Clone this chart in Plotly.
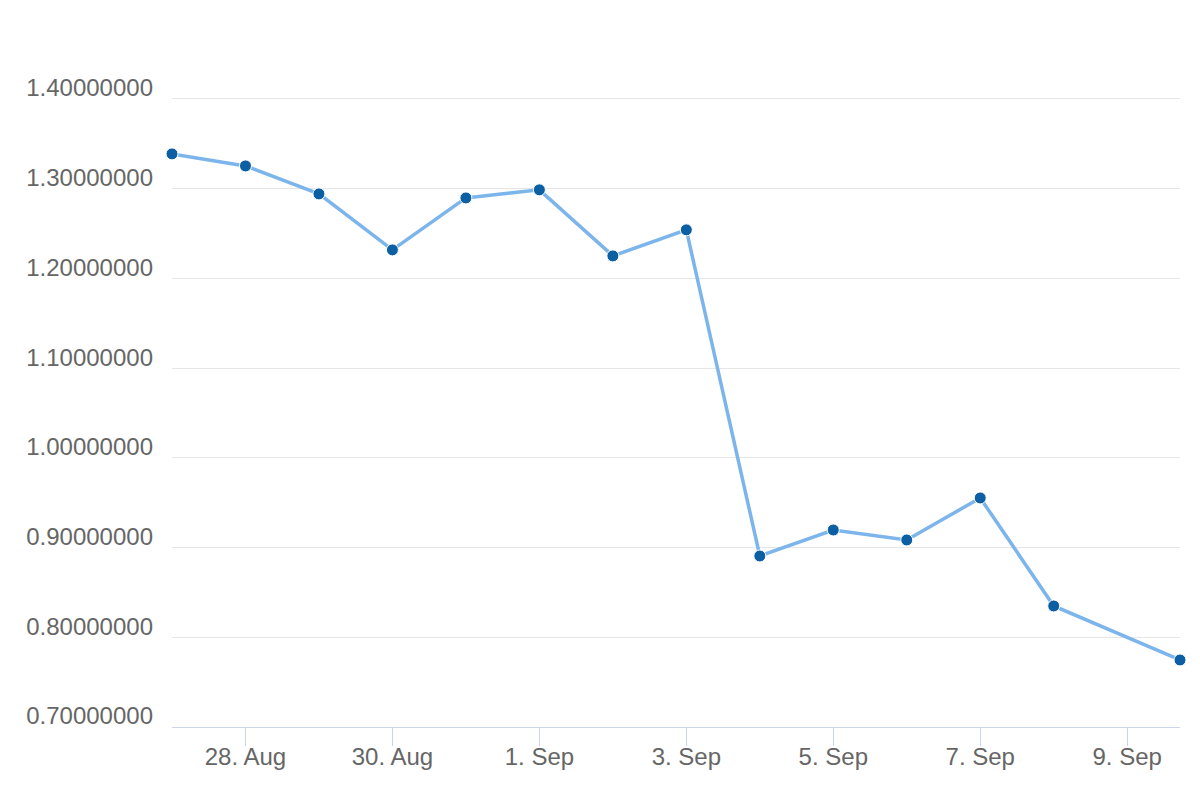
import plotly.graph_objects as go

dates = ["2023-08-27", "2023-08-28", "2023-08-29", "2023-08-30", "2023-08-31",
         "2023-09-01", "2023-09-02", "2023-09-03", "2023-09-04", "2023-09-05",
         "2023-09-06", "2023-09-07", "2023-09-08", "2023-09-09 17:15"]
values = [1.3388, 1.3254, 1.2942, 1.2318, 1.2897, 1.2987, 1.2251, 1.2541,
          0.8906, 0.9196, 0.9085, 0.9553, 0.8349, 0.7747]

x_tick_vals = ["2023-08-28", "2023-08-30", "2023-09-01", "2023-09-03",
               "2023-09-05", "2023-09-07", "2023-09-09"]
x_tick_text = ["28. Aug", "30. Aug", "1. Sep", "3. Sep", "5. Sep", "7. Sep", "9. Sep"]
y_tick_vals = [0.7, 0.8, 0.9, 1.0, 1.1, 1.2, 1.3, 1.4]

fig = go.Figure()
fig.add_trace(go.Scatter(
    x=dates, y=values, mode="lines+markers",
    line=dict(color="#7cb5ec", width=3.5),
    marker=dict(color="#0d5fa4", size=12, line=dict(color="#ffffff", width=1)),
    cliponaxis=False, showlegend=False,
))

font = dict(family="Liberation Sans, Arial, sans-serif", size=24, color="#666666")

# the page body has an 8px margin, so the figure is offset by 8px
fig.update_layout(
    width=1192, height=792,
    margin=dict(l=164, r=20, t=89, b=73),
    paper_bgcolor="#ffffff", plot_bgcolor="#ffffff",
    font=font,
    xaxis=dict(
        type="date", range=[dates[0], dates[-1]],
        tickvals=x_tick_vals, ticktext=x_tick_text,
        showgrid=False, zeroline=False,
        showline=True, linecolor="#ccd6eb", linewidth=1,
        ticks="outside", ticklen=18, tickcolor="#ccd6eb", tickwidth=1,
        ticklabelstandoff=-10,
        tickfont=font,
    ),
    yaxis=dict(
        range=[0.7, 1.4022], tickvals=y_tick_vals, tickformat=".8f",
        showgrid=True, gridcolor="#e6e6e6", gridwidth=1,
        zeroline=False, showline=False, ticks="",
        ticklabelstandoff=18, ticklabelshift=-11,
        tickfont=font,
    ),
)

fig.write_html("out.html")
